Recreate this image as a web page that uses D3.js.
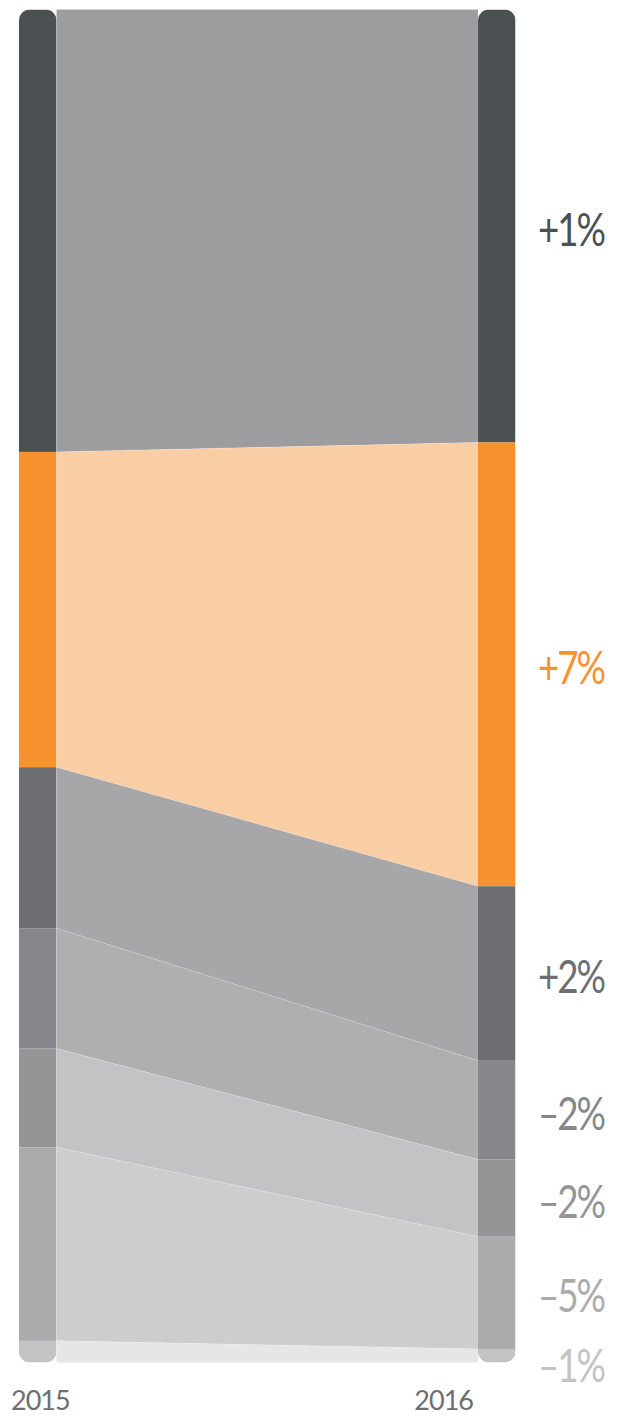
<!DOCTYPE html>
<html>
<head>
<meta charset="utf-8">
<script src="https://cdn.jsdelivr.net/npm/d3@7"></script>
<style>
  html, body { margin: 0; padding: 0; background: #fff; }
  svg { display: block; }
</style>
</head>
<body>
<svg id="chart" width="623" height="1416"></svg>
<script>
// ---- data ----
const years = ["2015", "2016"];
const segments = ["s1", "s2", "s3", "s4", "s5", "s6", "s7"];
const shares2015 = [32.7, 23.3, 11.9, 8.9, 7.3, 14.3, 1.6];
const shares2016 = [32.0, 32.8, 12.9, 7.3, 5.7, 8.3, 1.0];
const changeLabels = ["+1%", "+7%", "+2%", "\u20132%", "\u20132%", "\u20135%", "\u20131%"];

// ---- styles ----
const barColors  = ["#4b5053", "#f7922f", "#6d6e71", "#87878b", "#959597", "#ababab", "#c3c3c5"];
const bandColors = ["#9d9d9f", "#f9cea4", "#a7a7a9", "#afafaf", "#c3c3c5", "#cdcdcd", "#e6e6e7"];
const labelColors = ["#4b5053", "#f7922f", "#6d6e71", "#87878b", "#959597", "#ababab", "#c3c3c5"];

const svg = d3.select("#chart");
const barW = 37.5;

const y = d3.scaleLinear().domain([0, 100]).range([9.5, 1362.5]);
const x = d3.scalePoint().domain(years).range([19, 478]);

function stack(vals) {
  let acc = 0;
  return vals.map(v => { const s = { y0: acc, y1: acc + v }; acc += v; return s; });
}
const st = { "2015": stack(shares2015), "2016": stack(shares2016) };

// bands
const gBands = svg.append("g");
segments.forEach((s, i) => {
  const a = st["2015"][i], b = st["2016"][i];
  const xl = x("2015") + barW, xr = x("2016");
  const pts = [[xl, y(a.y0)], [xr, y(b.y0)], [xr, y(b.y1)], [xl, y(a.y1)]];
  gBands.append("path")
    .attr("d", d3.line()(pts) + "Z")
    .attr("fill", bandColors[i])
    .attr("stroke", "#ffffff")
    .attr("stroke-opacity", 0.25)
    .attr("stroke-width", 0.6);
});

// bars with rounded ends
const defs = svg.append("defs");
years.forEach((yr) => {
  const id = "clip" + yr;
  defs.append("clipPath").attr("id", id)
    .append("rect")
    .attr("x", x(yr)).attr("y", y(0))
    .attr("width", barW).attr("height", y(100) - y(0))
    .attr("rx", 11).attr("ry", 11);
  const g = svg.append("g").attr("clip-path", `url(#${id})`);
  st[yr].forEach((d, i) => {
    g.append("rect")
      .attr("x", x(yr)).attr("y", y(d.y0))
      .attr("width", barW).attr("height", y(d.y1) - y(d.y0))
      .attr("fill", barColors[i]);
  });
});

// change labels
let prev = -Infinity;
const minGap = 70;
st["2016"].forEach((d, i) => {
  let cy = (y(d.y0) + y(d.y1)) / 2 + 2;
  if (cy - prev < minGap) cy = prev + minGap;
  prev = cy;
  svg.append("text")
    .attr("transform", `translate(571,${cy}) scale(0.8,1)`)
    .attr("text-anchor", "middle")
    .attr("dominant-baseline", "central")
    .attr("font-family", "Lato, 'Open Sans', sans-serif")
    .attr("font-size", 46)
    .attr("letter-spacing", -2.5)
    .attr("fill", labelColors[i])
    .text(changeLabels[i]);
});

// year labels
svg.append("text")
  .attr("x", 11).attr("y", 1410)
  .attr("text-anchor", "start")
  .attr("font-family", "Lato, 'Open Sans', sans-serif")
  .attr("font-size", 27).attr("letter-spacing", -1)
  .attr("fill", "#6d6e71")
  .text(years[0]);
svg.append("text")
  .attr("x", 473).attr("y", 1410)
  .attr("text-anchor", "end")
  .attr("font-family", "Lato, 'Open Sans', sans-serif")
  .attr("font-size", 27).attr("letter-spacing", -1)
  .attr("fill", "#6d6e71")
  .text(years[1]);
</script>
</body>
</html>
